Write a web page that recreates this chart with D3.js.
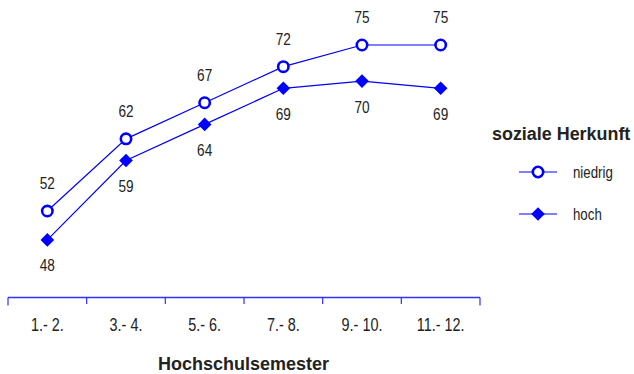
<!DOCTYPE html>
<html><head><meta charset="utf-8">
<script src="https://cdn.jsdelivr.net/npm/d3@7"></script>
<style>
html,body{margin:0;padding:0;background:#fff;}
svg{display:block;}
text{font-family:"Liberation Sans",Arial,sans-serif;fill:#222;}
</style></head>
<body>
<svg id="chart" width="634" height="374"></svg>
<script>
const categories = ["1.- 2.", "3.- 4.", "5.- 6.", "7.- 8.", "9.- 10.", "11.- 12."];
const niedrig = [52, 62, 67, 72, 75, 75];
const hoch = [48, 59, 64, 69, 70, 69];
const seriesNames = ["niedrig", "hoch"];
const legendTitle = "soziale Herkunft";
const axisTitle = "Hochschulsemester";

const svg = d3.select("#chart");
const blue = "#0000ff";
const x = d3.scaleBand().domain(categories).range([8, 480]).padding(0);
const y = d3.scaleLinear().domain([48, 75]).range([239.9, 45]);
const cx = c => x(c) + x.bandwidth() / 2;

// condense text horizontally (narrow font look)
function condense(sel, f) {
  sel.each(function () {
    const w = this.getComputedTextLength();
    d3.select(this).attr("textLength", w * f).attr("lengthAdjust", "spacingAndGlyphs");
  });
}

const axisY = 297.5;
svg.append("line").attr("x1", x.range()[0]).attr("x2", x.range()[1])
  .attr("y1", axisY).attr("y2", axisY).attr("stroke", "#3030ff").attr("stroke-width", 1.3);
const bounds = categories.map(c => x(c)).concat([x.range()[1]]);
svg.selectAll(".tk").data(bounds).enter().append("line")
  .attr("x1", d => d).attr("x2", d => d)
  .attr("y1", axisY).attr("y2", (d, i) => (i === 0 || i === bounds.length - 1) ? axisY + 8 : axisY + 6.5)
  .attr("stroke", "#3030ff").attr("stroke-width", 1.2);
const ax = svg.append("g").attr("transform", `translate(0,${axisY})`)
  .call(d3.axisBottom(x).tickSize(0).tickPadding(21));
ax.select(".domain").remove();
ax.selectAll("text").attr("font-size", 18).attr("font-family", "Liberation Sans, Arial, sans-serif").attr("fill", "#222");
condense(ax.selectAll("text"), 0.8);

svg.append("text").attr("x", 243.5).attr("y", 370).attr("text-anchor", "middle")
  .attr("font-weight", "bold").attr("font-size", 18)
  .attr("fill", "#111").text(axisTitle);

const line = d3.line().x((d, i) => cx(categories[i])).y(d => y(d));
const diamond = s => `M0,${-s}L${s},0L0,${s}L${-s},0Z`;

svg.append("path").datum(niedrig).attr("d", line).attr("fill", "none").attr("stroke", blue).attr("stroke-width", 1.2);
svg.append("path").datum(hoch).attr("d", line).attr("fill", "none").attr("stroke", blue).attr("stroke-width", 1.2);

svg.selectAll(".mn").data(niedrig).enter().append("circle")
  .attr("cx", (d, i) => cx(categories[i])).attr("cy", d => y(d)).attr("r", 5.2)
  .attr("fill", "#fff").attr("stroke", blue).attr("stroke-width", 2.6);
svg.selectAll(".mh").data(hoch).enter().append("path")
  .attr("transform", (d, i) => `translate(${cx(categories[i])},${y(d)})`)
  .attr("d", diamond(6.8)).attr("fill", blue);

const ln = svg.selectAll(".ln").data(niedrig).enter().append("text")
  .attr("x", (d, i) => cx(categories[i])).attr("y", d => y(d) - 22)
  .attr("text-anchor", "middle").attr("font-size", 17).text(d => d);
const lh = svg.selectAll(".lh").data(hoch).enter().append("text")
  .attr("x", (d, i) => cx(categories[i])).attr("y", d => y(d) + 31.5)
  .attr("text-anchor", "middle").attr("font-size", 17).text(d => d);
condense(ln, 0.8);
condense(lh, 0.8);

const lt = svg.append("text").attr("x", 492).attr("y", 139.5)
  .attr("font-weight", "bold").attr("font-size", 18)
  .attr("fill", "#111").text(legendTitle);
condense(lt, 0.995);
const legY = [172, 214];
seriesNames.forEach((n, i) => {
  const g = svg.append("g").attr("transform", `translate(538,${legY[i]})`);
  g.append("line").attr("x1", -19).attr("x2", 19).attr("y1", 0).attr("y2", 0).attr("stroke", blue).attr("stroke-width", 1.2);
  if (i === 0) g.append("circle").attr("r", 5.2).attr("fill", "#fff").attr("stroke", blue).attr("stroke-width", 2.6);
  else g.append("path").attr("d", diamond(6.8)).attr("fill", blue);
  const t = svg.append("text").attr("x", 573).attr("y", legY[i] + 6).attr("font-size", 17).text(n);
  condense(t, 0.78);
});
</script>
</body></html>
